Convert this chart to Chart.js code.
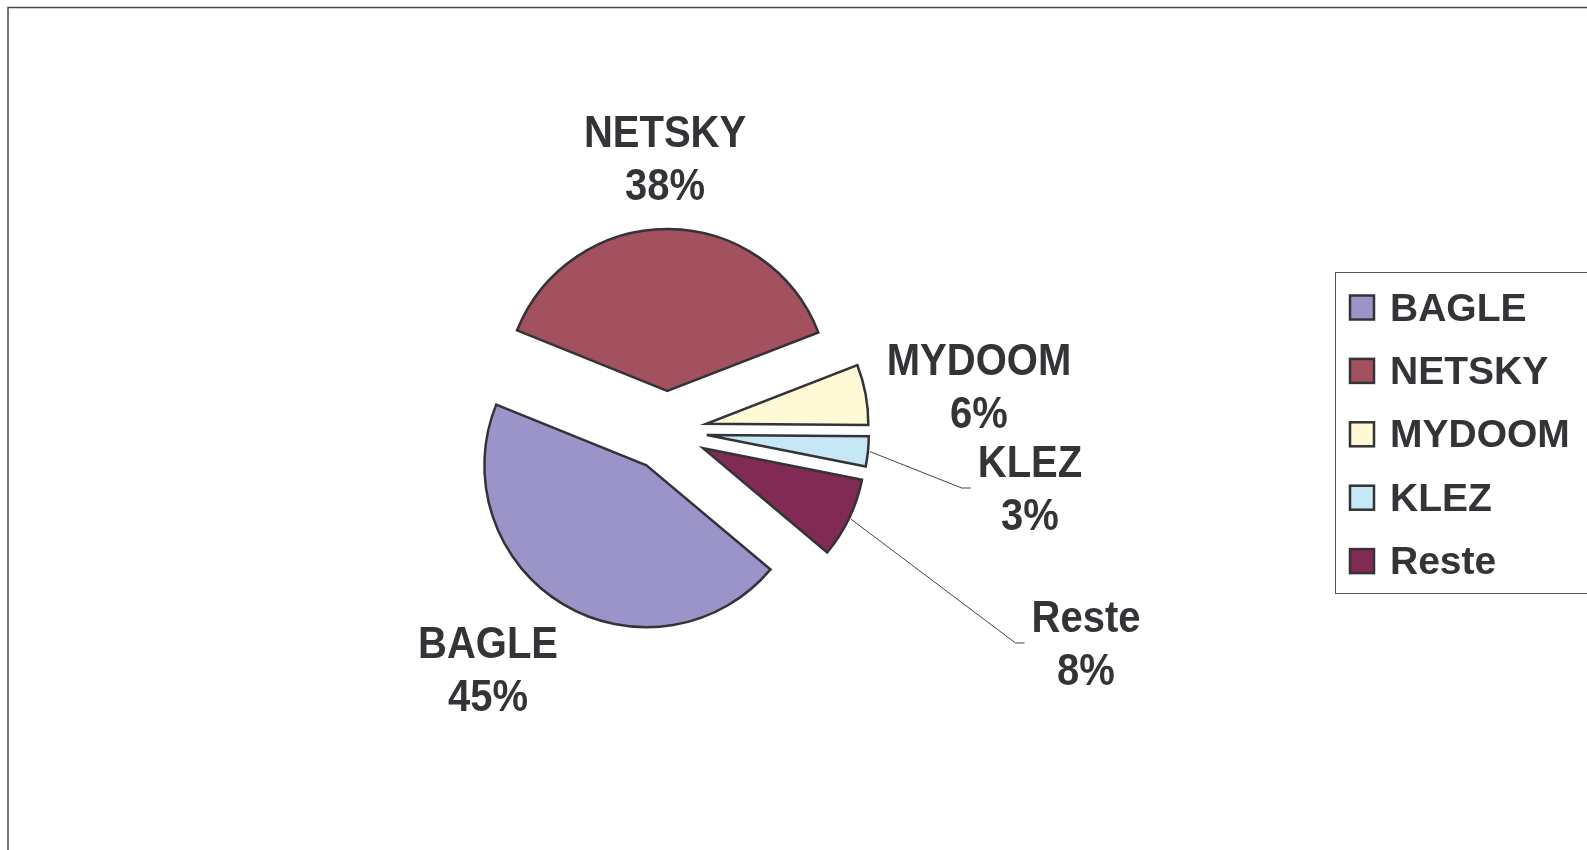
<!DOCTYPE html>
<html>
<head>
<meta charset="utf-8">
<title>Virus</title>
<script src="https://cdn.jsdelivr.net/npm/chart.js@4/dist/chart.umd.min.js"></script>
<style>
    html, body { margin: 0; padding: 0; background: #fff; }
    #wrap { width: 1587px; height: 850px; }
</style>
</head>
<body>
<div id="wrap"><canvas id="virusChart" width="1587" height="850"></canvas></div>
<script>
const LABELS = ["BAGLE", "NETSKY", "MYDOOM", "KLEZ", "Reste"];
const SHARES = [45, 38, 6, 3, 8];
const COLORS = ["#9b94c9", "#a3515e", "#fffad5", "#c6e8f6", "#812a54"];

// where each text block sits, relative to the pie centre
const LABEL_SPOTS = [[-179, 238], [-2, -273], [312, -45], [363, 57], [419, 212]];
const HAS_LEADER = [false, false, false, true, true];

const EXPLODE = 40;      // distance every slice is pulled out
const TEXT_COLOR = "#343438";
const FONT = '"Liberation Sans", Arial, sans-serif';

// draw each slice shifted outwards along its middle angle
const explodePlugin = {
    id: "explode",
    beforeDatasetDraw(chart, args) {
        const ctx = chart.ctx;
        args.meta.data.forEach(arc => {
            const mid = (arc.startAngle + arc.endAngle) / 2;
            ctx.save();
            ctx.translate(Math.cos(mid) * EXPLODE, Math.sin(mid) * EXPLODE);
            arc.draw(ctx);
            ctx.restore();
        });
        return false;
    }
};

// name + percentage next to each slice
const sliceLabels = {
    id: "sliceLabels",
    afterDatasetsDraw(chart) {
        const ctx = chart.ctx;
        const arcs = chart.getDatasetMeta(0).data;
        const values = chart.data.datasets[0].data;
        const total = values.reduce((a, b) => a + b, 0);

        ctx.save();
        ctx.font = "bold 40px " + FONT;
        ctx.fillStyle = TEXT_COLOR;
        ctx.textAlign = "center";
        ctx.textBaseline = "alphabetic";

        arcs.forEach((arc, i) => {
            const cx = arc.x + LABEL_SPOTS[i][0];
            const cy = arc.y + LABEL_SPOTS[i][1];
            const name = chart.data.labels[i];
            const pct = Math.round(values[i] / total * 100) + "%";

            [[name, cy - 11], [pct, cy + 42]].forEach(([txt, y]) => {
                ctx.save();
                ctx.translate(cx, y);
                ctx.scale(1, 1.09);
                ctx.fillText(txt, 0, 0);
                ctx.restore();
            });

            if (HAS_LEADER[i]) {
                const mid = (arc.startAngle + arc.endAngle) / 2;
                const r = EXPLODE + arc.outerRadius + 2;
                const x0 = arc.x + Math.cos(mid) * r;
                const y0 = arc.y + Math.sin(mid) * r;
                const w = Math.max(ctx.measureText(name).width, ctx.measureText(pct).width);
                const xEnd = cx - w / 2 - 7;
                ctx.beginPath();
                ctx.moveTo(x0, y0);
                ctx.lineTo(xEnd - 9, cy);
                ctx.lineTo(xEnd, cy);
                ctx.strokeStyle = "#444";
                ctx.lineWidth = 1;
                ctx.stroke();
            }
        });
        ctx.restore();
    }
};

// boxed legend on the right, plus the outer frame
const boxLegend = {
    id: "boxLegend",
    afterDraw(chart) {
        const ctx = chart.ctx;
        const ds = chart.data.datasets[0];
        ctx.save();

        ctx.strokeStyle = "#4a4a4a";
        ctx.lineWidth = 1.5;
        ctx.strokeRect(8, 7.5, 1700, 1000);

        ctx.strokeStyle = "#555";
        ctx.lineWidth = 1;
        ctx.strokeRect(1335.5, 272.5, 400, 321);

        ctx.font = "bold 39px " + FONT;
        ctx.textBaseline = "alphabetic";
        ctx.textAlign = "left";
        chart.data.labels.forEach((lab, i) => {
            const yc = 307.5 + i * 63.4;
            ctx.fillStyle = ds.backgroundColor[i];
            ctx.fillRect(1350, yc - 12, 24, 24);
            ctx.strokeStyle = "#333338";
            ctx.lineWidth = 2.5;
            ctx.strokeRect(1350, yc - 12, 24, 24);
            ctx.fillStyle = TEXT_COLOR;
            ctx.fillText(lab, 1390, yc + 13);
        });
        ctx.restore();
    }
};

const ctx = document.getElementById("virusChart").getContext("2d");
new Chart(ctx, {
    type: "pie",
    data: {
        labels: LABELS,
        datasets: [{
            data: SHARES,
            backgroundColor: COLORS,
            borderColor: "#333338",
            borderWidth: 2.5,
            borderJoinStyle: "miter",
            radius: 162
        }]
    },
    options: {
        responsive: false,
        animation: false,
        rotation: 130,
        layout: { padding: { left: 0, right: 253, top: 12, bottom: 0 } },
        plugins: {
            legend: { display: false },
            tooltip: { enabled: false }
        }
    },
    plugins: [explodePlugin, sliceLabels, boxLegend]
});
</script>
</body>
</html>
